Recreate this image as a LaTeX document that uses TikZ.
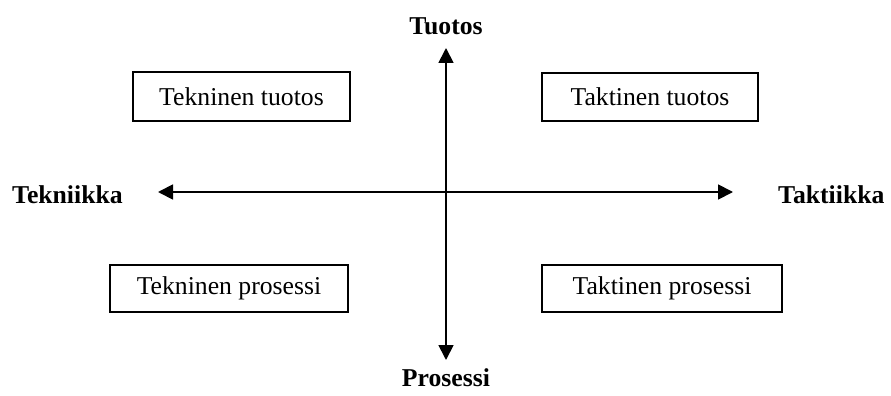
\documentclass[tikz,border=0pt]{standalone}
\usepackage{fontspec}
\setmainfont{Liberation Serif}
\usetikzlibrary{arrows.meta}
\begin{document}
\begin{tikzpicture}[x=1pt,y=-1pt,
  quadbox/.style={draw,line width=1.8pt,inner sep=0pt,align=center},
  axislabel/.style={inner sep=0pt,font=\fontsize{25.7}{30}\selectfont\bfseries},
  axisline/.style={line width=1.8pt,{Triangle[width=15pt,length=15pt]}-{Triangle[width=15pt,length=15pt]}}]
\useasboundingbox (0,0) rectangle (891,396);
\tikzset{every node/.append style={font=\fontsize{25.7}{30}\selectfont}}
\node[quadbox,minimum width=217pt,minimum height=49pt] (tt) at (241.5,96.5) {Tekninen tuotos};
\node[quadbox,minimum width=216pt,minimum height=48pt] (kt) at (650,97) {Taktinen tuotos};
\node[quadbox,minimum width=238pt,minimum height=47pt] (tp) at (229,288.5) {Tekninen prosessi};
\node[quadbox,minimum width=240pt,minimum height=47pt] (kp) at (662,288.5) {Taktinen prosessi};
\node[axislabel,anchor=base] (tuotos) at (446,35) {Tuotos};
\node[axislabel,anchor=base] (prosessi) at (446,386) {Prosessi};
\node[axislabel,anchor=base west] (tekniikka) at (12,203) {Tekniikka};
\node[axislabel,anchor=base west] (taktiikka) at (778,203) {Taktiikka};
\coordinate (top) at (446,48);
\coordinate (bottom) at (446,360);
\coordinate (left) at (158,192);
\coordinate (right) at (733,192);
\draw[axisline] (bottom) -- (top);
\draw[axisline] (left) -- (right);
\end{tikzpicture}
\end{document}
